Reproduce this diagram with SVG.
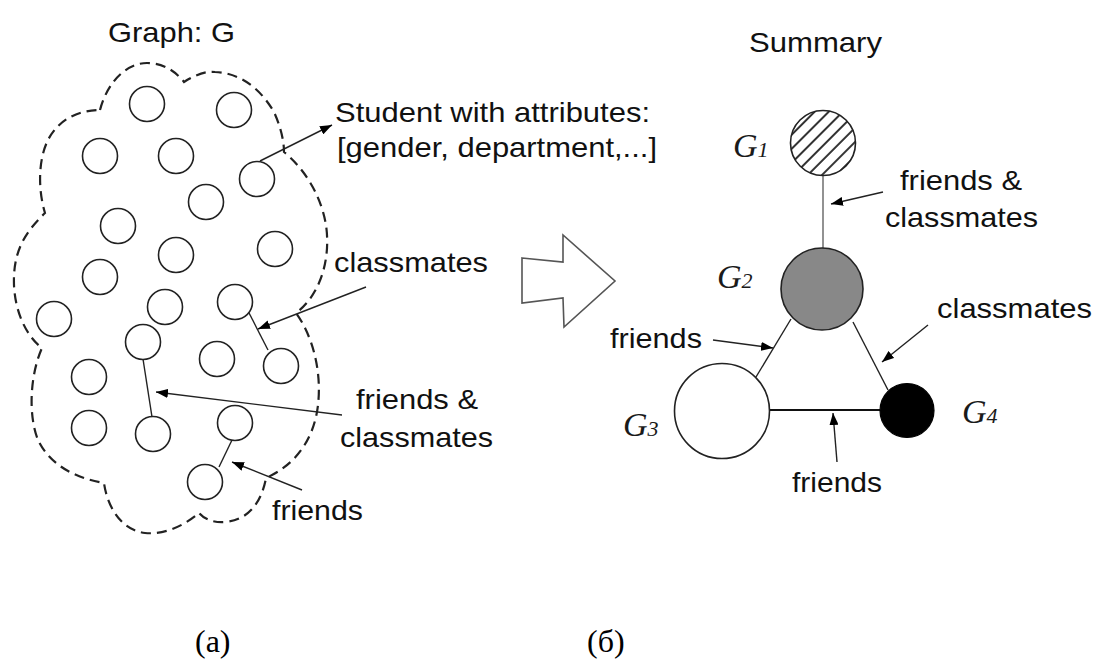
<svg xmlns="http://www.w3.org/2000/svg" width="1096" height="663" viewBox="0 0 1096 663">
  <defs>
    <marker id="tip" viewBox="0 0 12 9" refX="12" refY="4.5" markerWidth="12" markerHeight="9" markerUnits="userSpaceOnUse" orient="auto">
      <path d="M0,0 L12,4.5 L0,9 Z" fill="#000"/>
    </marker>
    <pattern id="hatch" width="10" height="10" patternUnits="userSpaceOnUse" patternTransform="rotate(45)">
      <rect width="10" height="10" fill="#fff"/>
      <line x1="5" y1="0" x2="5" y2="10" stroke="#000" stroke-width="1.6"/>
    </pattern>
    <style>
      .lbl { font-family: "Liberation Sans", Arial, sans-serif; font-size: 28px; fill: #111; }
      .cap { font-family: "Liberation Serif", "Times New Roman", serif; font-size: 32px; fill: #000; }
      .gs { font-family: "Liberation Serif", "Times New Roman", serif; font-style: italic; fill: #1a1a1a; }
      .st { fill: #fff; stroke: #222; stroke-width: 1.6; }
      .edge { stroke: #222; stroke-width: 1.4; fill: none; }
      .ptr { stroke: #222; stroke-width: 1.4; fill: none; marker-end: url(#tip); }
    </style>
  </defs>
  <rect width="1096" height="663" fill="#fff"/>

  <!-- left panel: graph G -->
  <text class="lbl" x="108" y="42" textLength="127" lengthAdjust="spacingAndGlyphs">Graph: G</text>

  <path id="cloud" fill="none" stroke="#222" stroke-width="2.2" stroke-dasharray="10 6"
        d="M100,110 C108,80 128,63 147,63 C164,63 176,72 184,82 C195,75 205,71 215,72 C240,73 260,88 274,112 C280,125 284,140 284,152 C300,165 320,190 326,225 C331,260 320,295 296,313 C312,335 322,370 318,405 C314,440 295,465 266,478 C262,500 250,520 225,522 C212,523 203,518 199,513 C185,525 165,535 145,533 C120,530 107,505 104,483 C75,478 50,465 38,440 C28,415 30,375 42,348 C25,335 15,310 14,285 C13,255 22,235 45,213 C38,190 38,160 48,140 C58,120 78,110 100,110 Z"/>

  <g id="connectors-left">
    <line class="edge" x1="247" y1="309" x2="268" y2="350"/>
    <line class="edge" x1="143" y1="359" x2="152" y2="417"/>
    <line class="edge" x1="232" y1="440" x2="219" y2="467"/>
    <line class="ptr" x1="260" y1="161" x2="332" y2="125"/>
    <line class="ptr" x1="366" y1="287" x2="258" y2="329"/>
    <line class="ptr" x1="342" y1="415" x2="156" y2="392"/>
    <line class="ptr" x1="302" y1="490" x2="232" y2="462"/>
  </g>

  <g id="students">
    <circle class="st" cx="147" cy="104" r="17.5"/>
    <circle class="st" cx="234" cy="110" r="17.5"/>
    <circle class="st" cx="100" cy="156" r="17.5"/>
    <circle class="st" cx="176" cy="156" r="17.5"/>
    <circle class="st" cx="257" cy="179" r="17.5"/>
    <circle class="st" cx="206" cy="202" r="17.5"/>
    <circle class="st" cx="118" cy="226" r="17.5"/>
    <circle class="st" cx="176" cy="255" r="17.5"/>
    <circle class="st" cx="275" cy="249" r="17.5"/>
    <circle class="st" cx="100" cy="277" r="17.5"/>
    <circle class="st" cx="165" cy="307" r="17.5"/>
    <circle class="st" cx="235" cy="302" r="17.5"/>
    <circle class="st" cx="54" cy="319" r="17.5"/>
    <circle class="st" cx="143" cy="342" r="17.5"/>
    <circle class="st" cx="217" cy="359" r="17.5"/>
    <circle class="st" cx="281" cy="366" r="17.5"/>
    <circle class="st" cx="89" cy="377" r="17.5"/>
    <circle class="st" cx="89" cy="428" r="17.5"/>
    <circle class="st" cx="153" cy="434" r="17.5"/>
    <circle class="st" cx="235" cy="423" r="17.5"/>
    <circle class="st" cx="205" cy="482" r="17.5"/>
  </g>

  <g id="labels-left">
    <text class="lbl" x="335" y="122" textLength="315" lengthAdjust="spacingAndGlyphs">Student with attributes:</text>
    <text class="lbl" x="337" y="157" textLength="320" lengthAdjust="spacingAndGlyphs">[gender, department,...]</text>
    <text class="lbl" x="334" y="272" textLength="154" lengthAdjust="spacingAndGlyphs">classmates</text>
    <text class="lbl" x="356" y="409" textLength="122" lengthAdjust="spacingAndGlyphs">friends &amp;</text>
    <text class="lbl" x="340" y="447" textLength="153" lengthAdjust="spacingAndGlyphs">classmates</text>
    <text class="lbl" x="272" y="520" textLength="91" lengthAdjust="spacingAndGlyphs">friends</text>
  </g>

  <!-- block arrow between panels -->
  <polygon id="transform-arrow" points="522,258 563,262 563,235 615,281 564,327 563,298 522,303" fill="#fff" stroke="#555" stroke-width="1.6" stroke-linejoin="miter"/>

  <!-- right panel: summary -->
  <text class="lbl" x="749" y="52" textLength="133" lengthAdjust="spacingAndGlyphs">Summary</text>

  <g id="connectors-right">
    <line x1="823" y1="176" x2="823" y2="248" stroke="#777" stroke-width="1.6"/>
    <line class="edge" x1="791" y1="319" x2="756" y2="377"/>
    <line class="edge" x1="853" y1="322" x2="888" y2="390"/>
    <line x1="769" y1="410" x2="880" y2="410" stroke="#111" stroke-width="2"/>
    <line class="ptr" x1="883" y1="192" x2="831" y2="204"/>
    <line class="ptr" x1="713" y1="340" x2="773" y2="348"/>
    <line class="ptr" x1="928" y1="325" x2="882" y2="362"/>
    <line class="ptr" x1="837" y1="462" x2="833" y2="413"/>
  </g>

  <g id="G1">
    <circle cx="823" cy="143" r="32.5" fill="url(#hatch)" stroke="#222" stroke-width="1.6"/>
    <text class="gs" x="733" y="157"><tspan font-size="34">G</tspan><tspan font-size="22">1</tspan></text>
  </g>
  <g id="G2">
    <circle cx="822" cy="289" r="41" fill="#888" stroke="#222" stroke-width="1.6"/>
    <text class="gs" x="717" y="288"><tspan font-size="34">G</tspan><tspan font-size="22">2</tspan></text>
  </g>
  <g id="G3">
    <circle cx="722" cy="411" r="47.5" fill="#fff" stroke="#222" stroke-width="1.6"/>
    <text class="gs" x="623" y="436"><tspan font-size="34">G</tspan><tspan font-size="22">3</tspan></text>
  </g>
  <g id="G4">
    <circle cx="907" cy="410.5" r="27" fill="#000" stroke="#000" stroke-width="1.2"/>
    <text class="gs" x="962" y="423"><tspan font-size="34">G</tspan><tspan font-size="22">4</tspan></text>
  </g>

  <g id="labels-right">
    <text class="lbl" x="900" y="190" textLength="122" lengthAdjust="spacingAndGlyphs">friends &amp;</text>
    <text class="lbl" x="885" y="227" textLength="153" lengthAdjust="spacingAndGlyphs">classmates</text>
    <text class="lbl" x="937" y="318" textLength="155" lengthAdjust="spacingAndGlyphs">classmates</text>
    <text class="lbl" x="610" y="348" textLength="92" lengthAdjust="spacingAndGlyphs">friends</text>
    <text class="lbl" x="792" y="492" textLength="90" lengthAdjust="spacingAndGlyphs">friends</text>
  </g>

  <!-- panel captions -->
  <text class="cap" x="195" y="652">(а)</text>
  <text class="cap" x="587" y="652">(б)</text>
</svg>
